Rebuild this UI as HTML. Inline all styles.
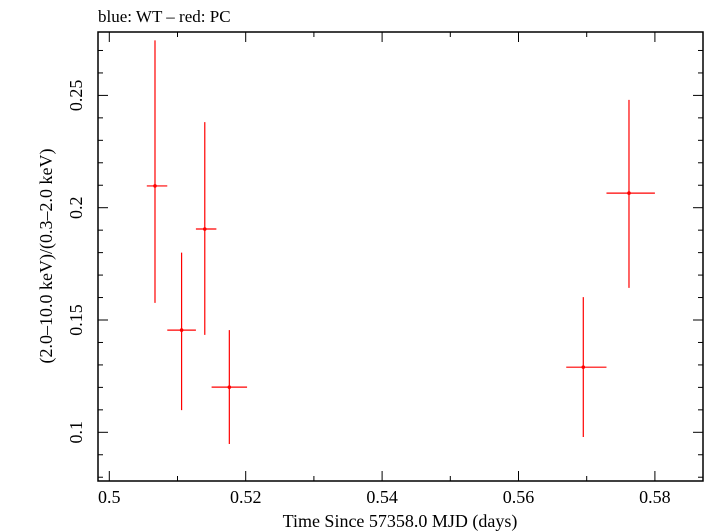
<!DOCTYPE html>
<html><head><meta charset="utf-8"><style>
body{margin:0;background:#fff;}
svg{display:block;font-family:"Liberation Serif",serif;}
</style></head><body>
<svg id="chart" width="705" height="532">
<text x="98" y="22" font-size="17">blue: WT – red: PC</text>
<rect x="98" y="32" width="605" height="449" fill="none" stroke="#000" stroke-width="1.5"/>
<g id="ticks"></g>
<g id="marks"></g>
<text x="400" y="527" font-size="18" text-anchor="middle">Time Since 57358.0 MJD (days)</text>
<text transform="translate(52,256) rotate(-90)" font-size="18" text-anchor="middle">(2.0–10.0 keV)/(0.3–2.0 keV)</text>
</svg>
<script>
const times=[0.5067,0.5106,0.5140,0.5176,0.5695,0.5762];
const timeLo=[0.5055,0.5085,0.5127,0.5150,0.5670,0.5729];
const timeHi=[0.5085,0.5127,0.5157,0.5202,0.5729,0.5800];
const ratios=[0.2097,0.1455,0.1905,0.1201,0.1290,0.2065];
const ratioLo=[0.1576,0.1099,0.1434,0.0948,0.0979,0.1643];
const ratioHi=[0.2745,0.1800,0.2381,0.1455,0.1602,0.2480];
const xTicks=[0.5,0.52,0.54,0.56,0.58];
const xTickLabels=["0.5","0.52","0.54","0.56","0.58"];
const yTicks=[0.1,0.15,0.2,0.25];
const yTickLabels=["0.1","0.15","0.2","0.25"];
const L=98,R=703,T=32,B=481;
const x=v=>109.3+(v-0.5)*6820;
const y=v=>432.3-(v-0.1)*2246;
const NS="http://www.w3.org/2000/svg";
function mk(tag,attrs,parent){const e=document.createElementNS(NS,tag);for(const k in attrs)e.setAttribute(k,attrs[k]);parent.appendChild(e);return e;}
const tg=document.getElementById('ticks');
for(let i=0;i<=8;i++){const v=0.5+i*0.01;const px=x(v);if(px<L||px>R)continue;const len=(i%2===0)?10:5;
 let a=mk('line',{x1:px,x2:px,y1:B,y2:B-len,stroke:'#000','stroke-width':1},tg);
 
 let b=mk('line',{x1:px,x2:px,y1:T,y2:T+len,stroke:'#000','stroke-width':1},tg);
 }
for(let i=0;i<=20;i++){const v=0.07+i*0.01;const py=y(v);if(py<T||py>B)continue;const len=(Math.round(v*100)%5===0)?10:5;
 let a=mk('line',{x1:L,x2:L+len,y1:py,y2:py,stroke:'#000','stroke-width':1},tg);
 
 let b=mk('line',{x1:R,x2:R-len,y1:py,y2:py,stroke:'#000','stroke-width':1},tg);
 }
xTicks.forEach((v,i)=>{const t=mk('text',{x:x(v),y:503,'font-size':18,'text-anchor':'middle'},tg);t.textContent=xTickLabels[i];
 });
yTicks.forEach((v,i)=>{const t=mk('text',{transform:`translate(82,${y(v)}) rotate(-90)`,'font-size':18,'text-anchor':'middle'},tg);t.textContent=yTickLabels[i];
 });
const mg=document.getElementById('marks');
times.forEach((t,i)=>{const g=mk('g',{stroke:'#f00','stroke-width':1.2},mg);
 
 mk('line',{x1:x(t),x2:x(t),y1:y(ratioLo[i]),y2:y(ratioHi[i])},g);
 mk('line',{x1:x(timeLo[i]),x2:x(timeHi[i]),y1:y(ratios[i]),y2:y(ratios[i])},g);
 mk('circle',{cx:x(t),cy:y(ratios[i]),r:1.8,fill:'#f00',stroke:'none'},g);});
</script>
</body></html>
